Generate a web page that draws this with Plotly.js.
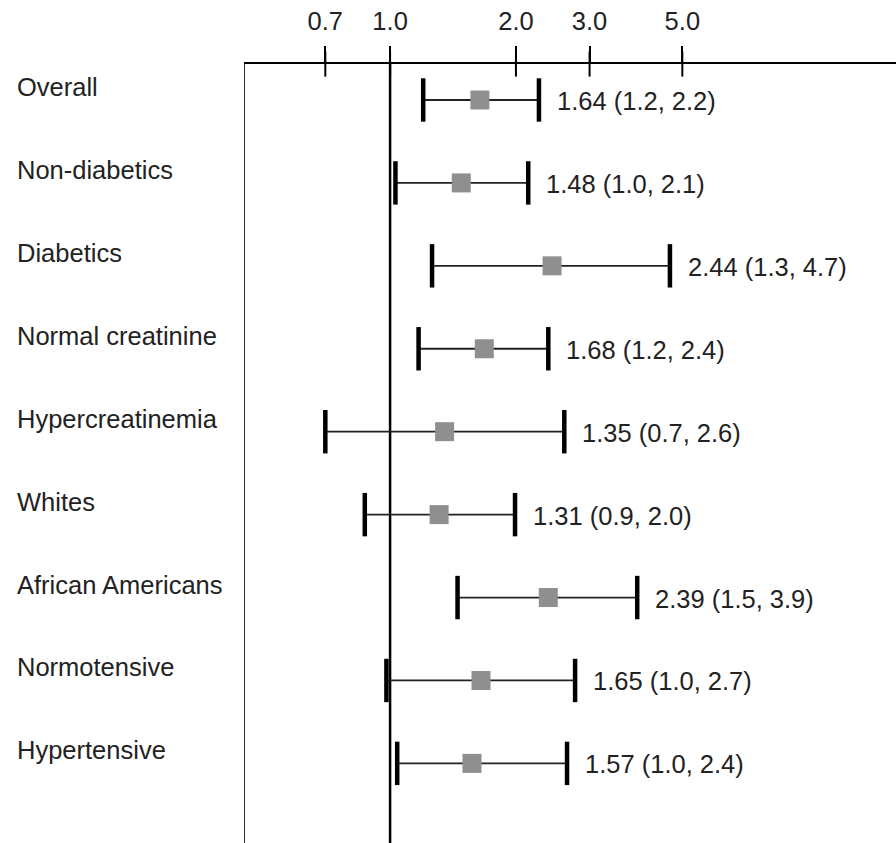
<!DOCTYPE html>
<html>
<head>
<meta charset="utf-8">
<script src="https://cdn.plot.ly/plotly-3.0.1.min.js"></script>
<style>html,body{margin:0;padding:0;background:#fff;}#chart{width:896px;height:843px;}</style>
</head>
<body>
<div id="chart"></div>
<script>
const categories = ['Overall','Non-diabetics','Diabetics','Normal creatinine','Hypercreatinemia','Whites','African Americans','Normotensive','Hypertensive'];
const estimate = [1.64,1.48,2.44,1.68,1.35,1.31,2.39,1.65,1.57];
const lower = [1.20,1.03,1.26,1.17,0.70,0.87,1.45,0.98,1.04];
const upper = [2.27,2.14,4.67,2.39,2.61,1.99,3.90,2.77,2.65];
const ciText = ['1.64 (1.2, 2.2)','1.48 (1.0, 2.1)','2.44 (1.3, 4.7)','1.68 (1.2, 2.4)','1.35 (0.7, 2.6)','1.31 (0.9, 2.0)','2.39 (1.5, 3.9)','1.65 (1.0, 2.7)','1.57 (1.0, 2.4)'];
const tickVals = [0.7,1.0,2.0,3.0,5.0];
const tickText = ['0.7','1.0','2.0','3.0','5.0'];

const rows = categories.map((c,i)=>i);
const FONT = 'Liberation Sans, Arial, sans-serif';
const FS = 25.5;
const yTop = -0.434, yBot = 8.96;
const traces = [];

// reference line at 1.0
traces.push({x:[1,1], y:[yTop, yBot], mode:'lines', line:{color:'#000', width:2.5}, hoverinfo:'skip', showlegend:false, cliponaxis:false});

// CI lines
categories.forEach((c,i)=>{
  traces.push({x:[lower[i], upper[i]], y:[i,i], mode:'lines', line:{color:'#222', width:1.8}, hoverinfo:'skip', showlegend:false});
});
// caps
traces.push({x:lower.concat(upper), y:rows.concat(rows), mode:'markers',
  marker:{symbol:'line-ns-open', size:31, color:'#000', line:{color:'#000', width:4.5}}, hoverinfo:'skip', showlegend:false});
// point estimates
traces.push({x:estimate, y:rows, mode:'markers',
  marker:{symbol:'square', size:19, color:'#8f8f8f', line:{width:0}}, showlegend:false});
// inner part of the axis ticks (ticks cross the axis line)
traces.push({x:tickVals, y:tickVals.map(()=>yTop), mode:'markers', cliponaxis:false,
  marker:{symbol:'line-ns-open', size:18, color:'#000', line:{color:'#000', width:2}}, hoverinfo:'skip', showlegend:false});

const annotations = [];
categories.forEach((c,i)=>{
  annotations.push({xref:'paper', yref:'y', x:-0.354, y:i, yshift:13, xanchor:'left', yanchor:'middle', text:c, showarrow:false, font:{family:FONT, size:FS, color:'#222'}});
  annotations.push({xref:'x', yref:'y', x:Math.log10(upper[i]), y:i, xshift:16, yshift:-1, xanchor:'left', yanchor:'middle', text:ciText[i], showarrow:false, font:{family:FONT, size:FS, color:'#222'}});
});

const xr = [-0.347, 1.21];
const layout = {
  width:896, height:843,
  margin:{l:245, r:0, t:64, b:0},
  paper_bgcolor:'#fff', plot_bgcolor:'#fff',
  xaxis:{type:'log', range:xr, side:'top', showgrid:false, zeroline:false,
    tickvals:tickVals, ticktext:tickText, ticks:'outside', ticklen:16, tickwidth:2, tickcolor:'#000',
    ticklabelstandoff:6,
    showline:true, linecolor:'#000', linewidth:2, tickfont:{family:FONT, size:FS, color:'#222'}},
  yaxis:{range:[yBot, yTop], showgrid:false, zeroline:false, showticklabels:false, ticks:'',
    showline:true, linecolor:'#333', linewidth:1.5},
  annotations:annotations,
  showlegend:false
};
Plotly.newPlot('chart', traces, layout, {displayModeBar:false, staticPlot:true});
</script>
</body>
</html>
